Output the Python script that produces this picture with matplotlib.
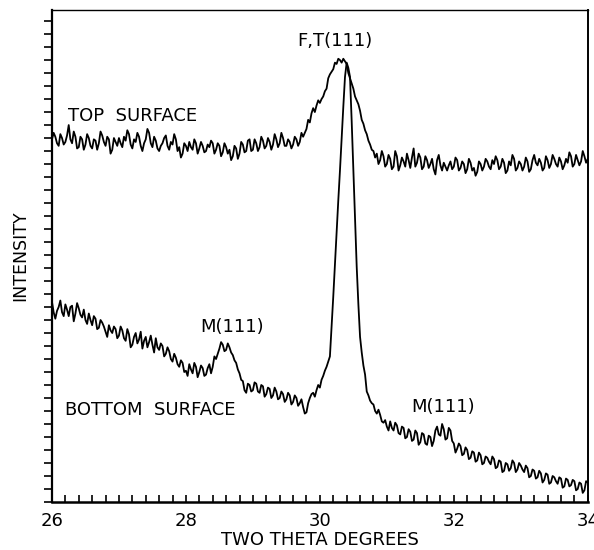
"""XRD scan of top and bottom surfaces, F,T(111) and M(111) reflections.

out.png (594x550)
"""

import matplotlib
matplotlib.use("Agg")
import matplotlib.pyplot as plt
import numpy as np

# two-theta grid: 26.000 .. 34.000 in 0.025 deg steps (321 samples)
TWO_THETA = np.round(np.arange(321) * 0.025 + 26.0, 3)

# intensity, arbitrary units (one major y tick = 100); 20 samples per row = 0.5 deg
TOP = [
    279, 284, 281, 276, 274, 283, 280, 275, 277, 282, 290, 279, 276, 285, 281, 272, 273, 281, 279, 271,  # 26.0
    275, 283, 280, 274, 272, 279, 278, 271, 276, 285, 282, 277, 274, 281, 279, 268, 271, 280, 277, 274,  # 26.5
    280, 276, 273, 281, 278, 286, 283, 275, 272, 279, 277, 284, 281, 274, 270, 276, 279, 287, 284, 276,  # 27.0
    273, 281, 278, 272, 270, 274, 276, 280, 282, 274, 271, 277, 275, 283, 279, 270, 273, 265, 268, 276,  # 27.5
    274, 270, 277, 273, 271, 279, 276, 268, 272, 277, 274, 269, 270, 275, 273, 278, 276, 268, 271, 276,  # 28.0
    274, 266, 269, 276, 273, 268, 271, 263, 266, 274, 272, 264, 268, 277, 275, 269, 270, 278, 279, 270,  # 28.5
    271, 279, 276, 270, 273, 281, 278, 272, 274, 280, 277, 271, 275, 283, 279, 273, 276, 284, 280, 274,  # 29.0
    274, 279, 277, 272, 275, 281, 279, 274, 277, 284, 281, 284, 287, 294, 292, 299, 303, 300, 305, 309,  # 29.5
    307, 310, 312, 316, 318, 326, 329, 331, 333, 338, 337, 341, 340, 338, 341, 339, 337, 330, 326, 322,  # 30.0
    318, 312, 309, 306, 301, 294, 291, 286, 283, 278, 275, 271, 270, 265, 268, 260, 263, 270, 266, 258,  # 30.5
    260, 267, 264, 256, 258, 270, 266, 255, 259, 265, 262, 258, 268, 263, 257, 265, 272, 258, 261, 268,  # 31.0
    265, 256, 258, 266, 263, 257, 260, 264, 256, 252, 263, 267, 259, 255, 261, 258, 255, 259, 262, 256,  # 31.5
    258, 265, 263, 255, 257, 262, 260, 253, 256, 264, 261, 255, 257, 251, 254, 262, 260, 255, 258, 264,  # 32.0
    262, 258, 256, 263, 260, 266, 263, 256, 258, 264, 261, 253, 255, 262, 259, 267, 264, 255, 257, 262,  # 32.5
    260, 255, 258, 265, 262, 254, 256, 263, 267, 261, 259, 264, 261, 255, 257, 266, 263, 257, 260, 267,  # 33.0
    264, 260, 258, 265, 262, 256, 259, 264, 261, 269, 266, 258, 260, 267, 263, 259, 262, 270, 266, 261,  # 33.5
    264,                                                                                                  # 34.0
]
BOTTOM = [
    154, 146, 141, 147, 150, 155, 146, 143, 152, 148, 143, 150, 151, 139, 145, 153, 149, 144, 142, 148,  # 26.0
    140, 137, 145, 140, 136, 143, 141, 133, 134, 140, 138, 135, 131, 127, 136, 132, 130, 135, 133, 126,  # 26.5
    128, 135, 132, 126, 124, 133, 129, 119, 121, 127, 130, 122, 125, 131, 118, 124, 127, 119, 123, 128,  # 27.0
    121, 115, 126, 119, 117, 122, 120, 112, 114, 119, 116, 110, 108, 114, 111, 106, 104, 109, 107, 100,  # 27.5
    101, 97, 106, 102, 99, 107, 104, 96, 100, 105, 103, 97, 98, 103, 106, 99, 104, 112, 110, 114,        # 28.0
    118, 123, 121, 116, 117, 122, 119, 115, 113, 109, 107, 102, 99, 94, 93, 86, 84, 91, 90, 85,          # 28.5
    86, 92, 91, 85, 84, 90, 89, 81, 83, 88, 87, 80, 82, 88, 85, 79, 80, 85, 83, 77,                      # 29.0
    79, 84, 82, 75, 77, 82, 80, 74, 76, 79, 73, 68, 69, 76, 80, 83, 84, 81, 86, 90,                      # 29.5
    88, 94, 97, 101, 104, 108, 112, 135, 158, 183, 208, 232, 255, 280, 304, 327, 338, 334, 327, 293,     # 30.0
    256, 217, 181, 152, 127, 115, 105, 98, 85, 82, 78, 76, 75, 70, 68, 71, 67, 62, 61, 63,               # 30.5
    58, 55, 62, 57, 55, 61, 59, 53, 52, 58, 57, 49, 50, 56, 54, 47, 48, 55, 53, 44,                      # 31.0
    46, 53, 52, 45, 44, 51, 50, 43, 47, 55, 58, 52, 51, 60, 56, 48, 49, 57, 55, 47,                      # 31.5
    45, 38, 41, 45, 43, 36, 37, 42, 40, 33, 34, 39, 38, 31, 32, 38, 36, 29, 30, 35,                      # 32.0
    34, 31, 29, 35, 33, 26, 27, 32, 31, 23, 24, 30, 29, 24, 26, 32, 30, 23, 25, 30,                      # 32.5
    28, 25, 23, 28, 26, 19, 20, 25, 24, 18, 19, 24, 22, 15, 17, 22, 21, 14, 15, 20,                      # 33.0
    19, 16, 14, 19, 18, 11, 12, 18, 17, 12, 13, 17, 16, 9, 10, 15, 14, 7, 9, 16,                         # 33.5
    15,                                                                                                   # 34.0
]

X_TICKS = [26, 28, 30, 32, 34]
X_TICK_LABELS = ["26", "28", "30", "32", "34"]

plt.rcParams["font.family"] = ["DejaVu Sans"]


def main():
    fig = plt.figure(figsize=(5.94, 5.50), dpi=100)
    ax = fig.add_axes([0.0875, 0.0873, 0.902, 0.8945])

    ax.plot(TWO_THETA, TOP, color="black", lw=1.3)
    ax.plot(TWO_THETA, BOTTOM, color="black", lw=1.3)

    ax.set_xlim(26, 34)
    ax.set_ylim(0, 378.5)

    ax.set_xticks(X_TICKS)
    ax.set_xticklabels(X_TICK_LABELS)
    ax.set_xticks(np.arange(26, 34.01, 0.2), minor=True)
    ax.tick_params(axis="x", which="both", direction="in", length=5, width=1.2,
                   labelsize=13, pad=7)
    ax.set_yticks([0, 100, 200, 300])
    ax.set_yticklabels([])
    ax.set_yticks(np.arange(0, 378, 10), minor=True)
    ax.tick_params(axis="y", which="both", direction="out", length=6, width=1.2)

    for side, lw in (("left", 1.6), ("bottom", 1.8), ("right", 1.4), ("top", 1.0)):
        ax.spines[side].set_linewidth(lw)

    ax.set_xlabel("TWO THETA DEGREES", fontsize=13, labelpad=1)
    ax.set_ylabel("INTENSITY", fontsize=12.5, labelpad=7)

    ax.text(26.24, 293, "TOP  SURFACE", fontsize=13, va="baseline")
    ax.text(29.66, 351, "F,T(111)", fontsize=13, va="baseline")
    ax.text(28.21, 131, "M(111)", fontsize=13, va="baseline")
    ax.text(26.19, 67, "BOTTOM  SURFACE", fontsize=13, va="baseline")
    ax.text(31.37, 69, "M(111)", fontsize=13, va="baseline")

    fig.savefig("out.png", dpi=100)
    plt.close(fig)


if __name__ == "__main__":
    main()
